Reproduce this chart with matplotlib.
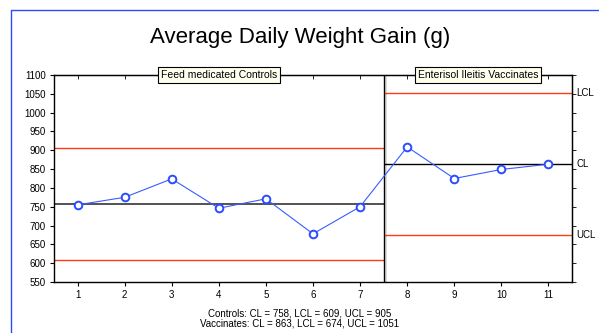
import matplotlib
matplotlib.use("Agg")
import matplotlib.pyplot as plt
from matplotlib.lines import Line2D

plt.rcParams['font.family'] = ['Liberation Sans', 'DejaVu Sans']

# Data
weeks = [1, 2, 3, 4, 5, 6, 7, 8, 9, 10, 11]
adg = [755, 775, 824, 746, 771, 678, 750, 909, 825, 849, 863]
groups = ["Feed medicated Controls", "Enterisol Ileitis Vaccinates"]
group_ranges = [(0.5, 7.5), (7.5, 11.5)]
cl = [758, 863]
lcl = [609, 674]
ucl = [905, 1051]
right_labels = ["LCL", "CL", "UCL"]
right_label_values = [1051, 863, 674]
yticks = list(range(550, 1101, 50))
title = "Average Daily Weight Gain (g)"
footnote = ["Controls: CL = 758, LCL = 609, UCL = 905",
            "Vaccinates: CL = 863, LCL = 674, UCL = 1051"]

W, H = 599, 333
fig = plt.figure(figsize=(W / 100, H / 100), dpi=100)
fig.patch.set_facecolor('white')

# blue frame (left and top edges only visible)
fx, fy = 10.5 / W, 1 - 9.5 / H
fig.add_artist(Line2D([fx, fx, 1.0], [0.0, fy, fy], transform=fig.transFigure,
                      color='#2a4cff', lw=1.0))

L, R, T, B = 54, 572, 75, 282
ax = fig.add_axes([L / W, 1 - B / H, (R - L) / W, (B - T) / H])

red = '#ff3a1a'
for (x0, x1), c, lo, hi, i in zip(group_ranges, cl, lcl, ucl, range(2)):
    ax.hlines(hi, x0, x1, color=red, lw=1.0, zorder=2)
    ax.hlines(lo, x0, x1, color=red, lw=1.0, zorder=2)
    ax.hlines(c, x0, x1, color='#444444' if i == 0 else 'black', lw=1.3 if i == 0 else 1.0, zorder=2)

ax.axvspan(7.5, 7.58, color='#dddddd', lw=0, zorder=1)
ax.axvline(7.5, color='black', lw=1.0, zorder=3)

ax.plot(weeks, adg, color='#3a5cff', lw=0.8, marker='o', ms=5.5, mfc='white',
        mec='#2a4cff', mew=1.4, zorder=4)

ax.set_xlim(0.5, 11.5)
ax.set_ylim(550, 1100)
ax.set_xticks(weeks)
ax.set_yticks(yticks)
ax.tick_params(labelsize=7, length=3, width=0.8, direction='out', pad=3)
for s in ax.spines.values():
    s.set_linewidth(1.0)

secx = ax.secondary_xaxis('top')
secx.set_xticks(weeks)
secx.tick_params(direction='in', length=3, labeltop=False, width=0.6)
secy = ax.secondary_yaxis('right')
secy.set_yticks(yticks)
secy.tick_params(direction='out', length=3, labelright=False, width=0.6)

for (x0, x1), g in zip(group_ranges, groups):
    ax.text((x0 + x1) / 2, 1100, g, ha='center', va='center', fontsize=7.5, zorder=6,
            bbox=dict(boxstyle='square,pad=0.25', fc='#fffff0', ec='black', lw=0.8))

for lab, v in zip(right_labels, right_label_values):
    ax.text(1.008, v, lab, transform=ax.get_yaxis_transform(), ha='left', va='center',
            fontsize=7)

fig.text(300 / W, 1 - 37 / H, title, ha='center', va='center', fontsize=16)
fig.text(300 / W, 1 - 314 / H, footnote[0], ha='center', va='center', fontsize=7)
fig.text(300 / W, 1 - 323 / H, footnote[1], ha='center', va='center', fontsize=7)

fig.savefig('out.png', dpi=100)
